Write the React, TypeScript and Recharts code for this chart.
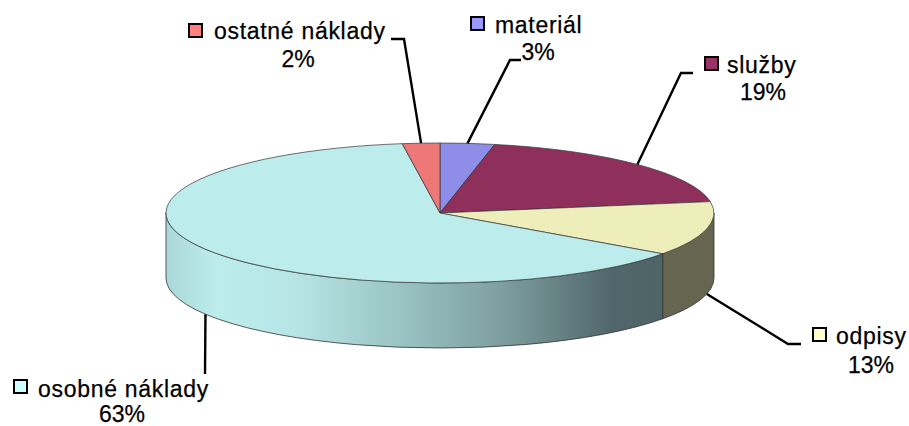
import { PieChart, Pie } from 'recharts';

const categories = ['materiál', 'služby', 'odpisy', 'osobné náklady', 'ostatné náklady'];
const shares = [3.2, 19.2, 12.5, 62.9, 2.2];

const data = categories.map((name, i) => ({ name, value: shares[i] }));

const topColors = ['#8e8ee8', '#8e2f5c', '#eeeebb', '#bcecec', '#ee7777'];
const sideColors = ['#55558a', '#551c37', '#66654f', 'url(#osobneSide)', '#8e4747'];
const keyColors = ['#9999ff', '#993366', '#ffffcc', '#ccffff', '#ff8080'];

const CX = 440;
const CY = 213;
const RX = 274;
const RY = 70;
const DEPTH = 65;
const FONT = '"Liberation Sans", Arial, sans-serif';

// label layout, same order as categories
const labelLayout = [
  { key: [471, 17], text: [495, 33], pct: [538, 60], leader: [[510, 60], [521, 60]] },
  { key: [705, 57], text: [727, 73], pct: [763, 100], leader: [[681, 73], [693, 73]] },
  { key: [813, 328], text: [836, 344], pct: [871, 373], leader: [[788, 344], [801, 344]] },
  { key: [14, 380], text: [38, 397], pct: [122, 421.5], leader: [[205, 374]] },
  { key: [189, 24], text: [214, 39], pct: [298, 67], leader: [[404, 39], [391, 39]] },
];

const point = (deg: number, dy = 0) => {
  const rad = (deg * Math.PI) / 180;
  return [CX + RX * Math.cos(rad), CY - RY * Math.sin(rad) + dy];
};

// Recharts gives the angles, this flattens the sector into a tilted disc
const Slice3D = (props: any) => {
  const { startAngle, endAngle, index } = props;
  const [x0, y0] = point(startAngle);
  const [x1, y1] = point(endAngle);
  const large = startAngle - endAngle > 180 ? 1 : 0;
  const top = `M${CX},${CY} L${x0},${y0} A${RX},${RY} 0 ${large} 1 ${x1},${y1} Z`;

  const hi = Math.min(startAngle, 0);
  const lo = Math.max(endAngle, -180);
  let side = null;
  if (hi > lo) {
    const [ax, ay] = point(hi);
    const [bx, by] = point(lo);
    side = (
      <path
        d={`M${ax},${ay} A${RX},${RY} 0 0 1 ${bx},${by} L${bx},${by + DEPTH} A${RX},${RY} 0 0 0 ${ax},${ay + DEPTH} Z`}
        fill={sideColors[index]}
        stroke="#333"
        strokeWidth={0.8}
      />
    );
  }
  return (
    <g>
      {side}
      <path d={top} fill={topColors[index]} stroke="#333" strokeWidth={0.7} />
    </g>
  );
};

const renderLabel = (props: any) => {
  const { index, midAngle } = props;
  const layout = labelLayout[index];
  const front = Math.sin((midAngle * Math.PI) / 180) < 0;
  const anchor = point(midAngle, front ? DEPTH : 0);
  const pts = [anchor, ...layout.leader].map((p) => p.join(',')).join(' ');
  return (
    <g key={categories[index]}>
      <polyline points={pts} fill="none" stroke="#000" strokeWidth={2.4} />
      <rect
        x={layout.key[0]}
        y={layout.key[1]}
        width={13}
        height={13}
        fill={keyColors[index]}
        stroke="#000"
        strokeWidth={2}
      />
      <text
        x={layout.text[0]}
        y={layout.text[1]}
        fontFamily={FONT}
        fontSize={23}
        letterSpacing={0.7}
        stroke="#000"
        strokeWidth={0.25}
        fill="#000"
      >
        {categories[index]}
      </text>
      <text
        x={layout.pct[0]}
        y={layout.pct[1]}
        fontFamily={FONT}
        fontSize={23}
        textAnchor="middle"
        stroke="#000"
        strokeWidth={0.25}
        fill="#000"
      >
        {Math.round(shares[index])}%
      </text>
    </g>
  );
};

const App = () => {
  return (
    <div style={{ position: 'absolute', left: 0, top: 0, width: 909, height: 426, background: '#fff' }}>
      <PieChart width={909} height={426} margin={{ top: 0, right: 0, bottom: 0, left: 0 }}>
        <defs>
          <linearGradient id="osobneSide" x1="0" y1="0" x2="1" y2="0">
            <stop offset="0" stopColor="#abd8d8" />
            <stop offset="0.1" stopColor="#bcecec" />
            <stop offset="0.25" stopColor="#b8e6e6" />
            <stop offset="0.47" stopColor="#9ac4c4" />
            <stop offset="0.68" stopColor="#7d9e9e" />
            <stop offset="0.9" stopColor="#50666a" />
            <stop offset="1" stopColor="#4f6466" />
          </linearGradient>
        </defs>
        <Pie
          data={data}
          dataKey="value"
          nameKey="name"
          cx={CX}
          cy={CY}
          outerRadius={RX}
          startAngle={90}
          endAngle={-270}
          stroke="none"
          shape={Slice3D}
          label={renderLabel}
          labelLine={false}
          isAnimationActive={false}
        />
      </PieChart>
    </div>
  );
};

export default App;
